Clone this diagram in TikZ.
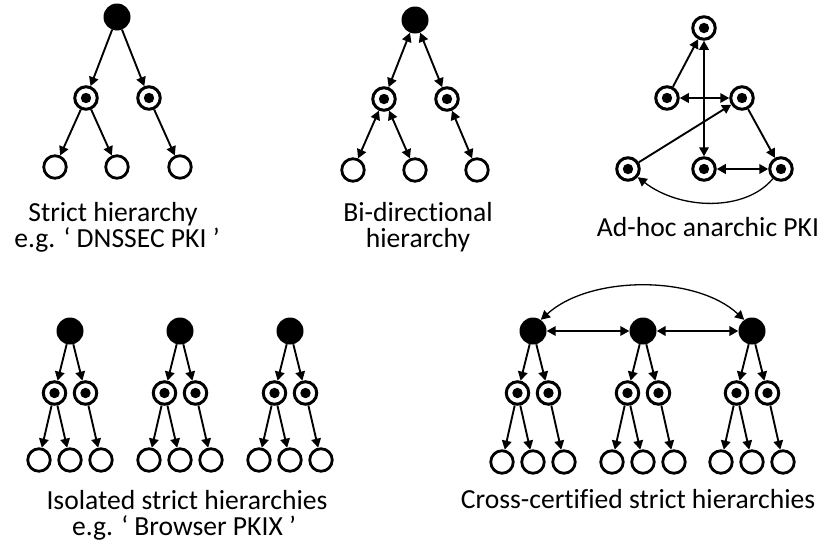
\documentclass[tikz,border=0pt]{standalone}
\usepackage{fontspec}
\setmainfont{Carlito}[Ligatures={TeX,NoCommon}]
\usetikzlibrary{arrows.meta}
\begin{document}
\begin{tikzpicture}[x=1pt,y=-1pt,
  root/.style={circle,fill=black,minimum size=27pt,inner sep=0pt},
  mid/.style={circle,draw,line width=3pt,fill=white,minimum size=22.5pt,inner sep=0pt,
    path picture={\fill[black] (path picture bounding box.center) circle (5.2pt);}},
  leaf/.style={circle,draw,line width=2.8pt,fill=white,minimum size=22.5pt,inner sep=0pt},
  arr/.style={-{Triangle[length=9pt,width=9.5pt]},line width=1.9pt},
  bi/.style={{Triangle[length=9pt,width=9.5pt]}-{Triangle[length=9pt,width=9.5pt]},line width=1.9pt},
  captext/.style={anchor=base,inner sep=0pt,font=\fontsize{27.6pt}{26pt}\selectfont}]
\useasboundingbox (0,0) rectangle (823,541);
% ---------- Panel 1: strict hierarchy
\node[root] (r1) at (117,17) {};
\node[mid] (m1a) at (86,98) {};
\node[mid] (m1b) at (149,98) {};
\node[leaf] (l1a) at (55,167) {};
\node[leaf] (l1b) at (117,167) {};
\node[leaf] (l1c) at (180,167) {};
\draw[arr] (r1) -- (m1a);
\draw[arr] (r1) -- (m1b);
\draw[arr] (m1a) -- (l1a);
\draw[arr] (m1a) -- (l1b);
\draw[arr] (m1b) -- (l1c);
\node[captext] (t1a) at (113,221) {Strict hierarchy};
\node[captext] (t1b) at (117,247) {e.g. ` DNSSEC PKI '};
% ---------- Panel 2: bi-directional hierarchy
\node[root] (r2) at (415,20) {};
\node[mid] (m2a) at (384,99) {};
\node[mid] (m2b) at (447,99) {};
\node[leaf] (l2a) at (353,170) {};
\node[leaf] (l2b) at (415,170) {};
\node[leaf] (l2c) at (477,170) {};
\draw[bi] (r2) -- (m2a);
\draw[bi] (r2) -- (m2b);
\draw[bi] (m2a) -- (l2a);
\draw[bi] (m2a) -- (l2b);
\draw[bi] (m2b) -- (l2c);
\node[captext] (t2a) at (418,221) {Bi-directional};
\node[captext] (t2b) at (418,247) {hierarchy};
% ---------- Panel 3: ad-hoc anarchic PKI
\node[mid] (t3) at (704,28) {};
\node[mid] (ml3) at (667,98) {};
\node[mid] (mr3) at (742,98) {};
\node[mid] (bl3) at (628,169) {};
\node[mid] (bm3) at (704,169) {};
\node[mid] (br3) at (781,169) {};
\draw[arr] (ml3) -- (t3);
\draw[bi] (t3) -- (bm3);
\draw[bi] (ml3) -- (mr3);
\draw[arr] (bl3) -- (mr3);
\draw[arr] (mr3) -- (br3);
\draw[bi,line width=2.4pt] (bm3) -- (br3);
\draw[-{Triangle[length=9pt,width=9.5pt]},line width=1.3pt] (br3.-130) .. controls (745,212) and (680,210) .. (bl3.-40);
\node[captext] (t3a) at (708,236) {Ad-hoc anarchic PKI};
% ---------- Panel 4: isolated strict hierarchies
\foreach \i/\X in {1/70,2/180,3/290}{
  \node[root] (r4\i) at (\X,331) {};
  \node[mid] (m4\i a) at (\X-15.5,393) {};
  \node[mid] (m4\i b) at (\X+15.5,393) {};
  \node[leaf] (l4\i a) at (\X-31,460) {};
  \node[leaf] (l4\i b) at (\X,460) {};
  \node[leaf] (l4\i c) at (\X+31,460) {};
  \draw[arr] (r4\i) -- (m4\i a);
  \draw[arr] (r4\i) -- (m4\i b);
  \draw[arr] (m4\i a) -- (l4\i a);
  \draw[arr] (m4\i a) -- (l4\i b);
  \draw[arr] (m4\i b) -- (l4\i c);
}
\node[captext] (t4a) at (187,509) {Isolated strict hierarchies};
\node[captext] (t4b) at (184,535) {e.g. ` Browser PKIX '};
% ---------- Panel 5: cross-certified strict hierarchies
\foreach \i/\X in {1/533,2/643,3/752}{
  \node[root] (r5\i) at (\X,331) {};
  \node[mid] (m5\i a) at (\X-15.5,393) {};
  \node[mid] (m5\i b) at (\X+15.5,393) {};
  \node[leaf] (l5\i a) at (\X-31,462) {};
  \node[leaf] (l5\i b) at (\X,462) {};
  \node[leaf] (l5\i c) at (\X+31,462) {};
  \draw[arr] (r5\i) -- (m5\i a);
  \draw[arr] (r5\i) -- (m5\i b);
  \draw[arr] (m5\i a) -- (l5\i a);
  \draw[arr] (m5\i a) -- (l5\i b);
  \draw[arr] (m5\i b) -- (l5\i c);
}
\draw[bi] (r51) -- (r52);
\draw[bi,line width=2.4pt] (r52) -- (r53);
\draw[{Triangle[length=9pt,width=9.5pt]}-{Triangle[length=9pt,width=9.5pt]},line width=1.3pt] (r51.55) .. controls (590,275) and (696,275) .. (r53.125);
\node[captext] (t5a) at (638,508) {Cross-certified strict hierarchies};
\end{tikzpicture}
\end{document}
